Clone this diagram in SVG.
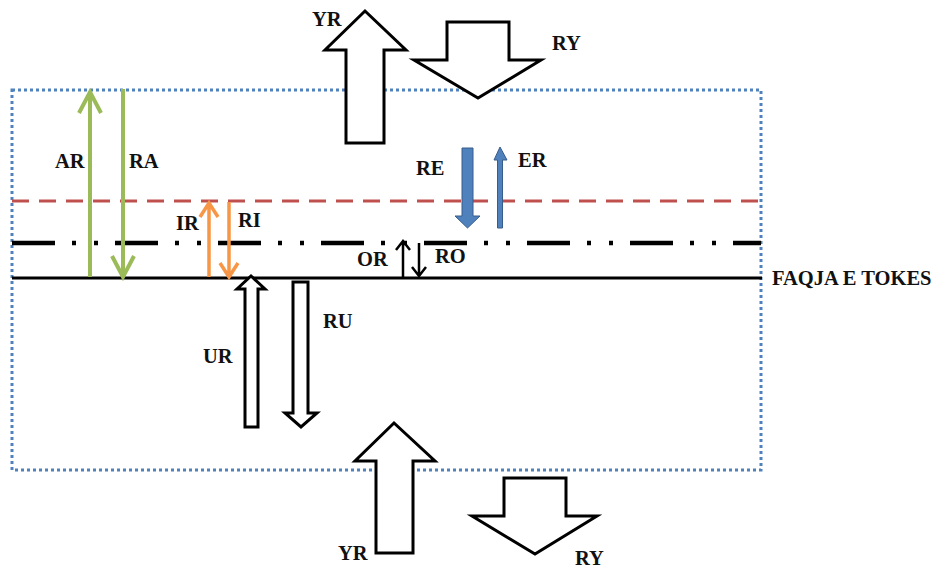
<svg xmlns="http://www.w3.org/2000/svg" width="937" height="570" viewBox="0 0 937 570">
<style>
text{font-family:"Liberation Serif","Times New Roman",serif;font-weight:bold;font-size:20.5px;fill:#111}
.hollow{fill:#fff;stroke:#000;stroke-width:3;stroke-linejoin:miter}
.green{stroke:#9bbb59;stroke-width:4;fill:none}
.orange{stroke:#f79646;stroke-width:3.5;fill:none}
.blk{stroke:#000;stroke-width:2.5;fill:none}
</style>
<rect width="937" height="570" fill="#fff"/>
<g id="layers">
<rect x="12" y="90" width="749" height="380" fill="none" stroke="#4f81bd" stroke-width="3" stroke-dasharray="3 3"/>
<line x1="12" y1="201" x2="761" y2="201" stroke="#c0504d" stroke-width="3" stroke-dasharray="17 10"/>
<line x1="12" y1="243" x2="761" y2="243" stroke="#000" stroke-width="4.5" stroke-dasharray="43 17 4 18 4 17"/>
<line x1="12" y1="278" x2="762" y2="278" stroke="#000" stroke-width="3"/>
</g>
<g id="connectors">
<g id="AR"><path class="green" d="M90 277V92M79 113L90 92L101 113"/></g>
<g id="RA"><path class="green" d="M123 89V276M112 256L123 277L134 256"/></g>
<g id="IR"><path class="orange" d="M209 277V204M200 217L209 203L218 217"/></g>
<g id="RI"><path class="orange" d="M229 202V276M220 263L229 277L238 263"/></g>
<g id="OR"><path class="blk" d="M403 277V241M396 250L403 241L410 250"/></g>
<g id="RO"><path class="blk" d="M419 243V276M412 267L419 276L426 267"/></g>
<g id="RE"><path d="M462 148H473V216H480L467.5 228L455 216H462Z" fill="#4f81bd" stroke="#385d8a" stroke-width="1"/></g>
<g id="ER"><path d="M497.5 228V160H494L500 147L507 160H502.5V228Z" fill="#4f81bd" stroke="#385d8a" stroke-width="1"/></g>
<g id="UR"><path class="hollow" d="M245 427V289H237L251 276L265 289H258V427Z"/></g>
<g id="RU"><path class="hollow" d="M293 282H308V413H317L301 427L285 413H293Z"/></g>
<g id="YR-top"><path class="hollow" d="M346 143V50H325L365 11L406 50H384V143Z"/></g>
<g id="RY-top"><path class="hollow" d="M447 22H509V60H541L478 98L414 60H447Z"/></g>
<g id="YR-bottom"><path class="hollow" d="M376 553V461H355L394 423L435 461H413V553Z"/></g>
<g id="RY-bottom"><path class="hollow" d="M504 478H566V516H597L535 554L472 516H504Z"/></g>
</g>
<g id="labels">
<text x="312" y="26">YR</text>
<text x="552" y="50">RY</text>
<text x="55" y="168">AR</text>
<text x="129" y="168">RA</text>
<text x="176" y="230">IR</text>
<text x="238" y="227">RI</text>
<text x="416" y="175">RE</text>
<text x="518" y="167">ER</text>
<text x="357" y="266">OR</text>
<text x="435" y="263">RO</text>
<text x="203" y="363">UR</text>
<text x="323" y="328">RU</text>
<text x="338" y="560">YR</text>
<text x="575" y="565">RY</text>
<text x="772" y="285">FAQJA E TOKES</text>
</g>
</svg>
